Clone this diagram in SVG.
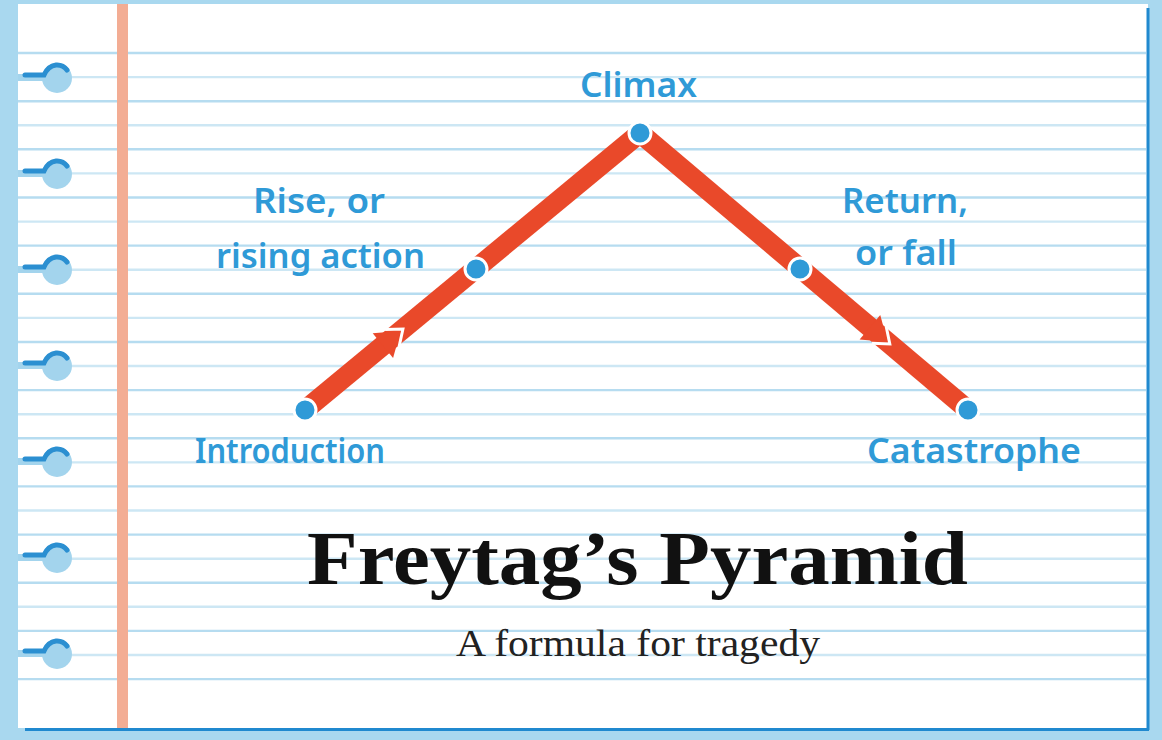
<svg xmlns="http://www.w3.org/2000/svg" width="1162" height="740" viewBox="0 0 1162 740">
<style>
.rule{stroke:#b6dcf0;stroke-width:2.4}
.rule2{stroke:#cde7f4;stroke-width:2.4}
.hole{fill:#a3d4ed}
.wire{fill:none;stroke:#2b8fd1;stroke-width:5;stroke-linecap:round}
.track{stroke:#e9492a;stroke-width:20;stroke-linecap:butt;fill:none}
.head{fill:#e9492a}
.gap{fill:none;stroke:#ffffff;stroke-width:3}
.dot{fill:#2f9ad7;stroke:#ffffff;stroke-width:3}
.hand{font-family:"Noto Sans","Open Sans",sans-serif;font-weight:600;fill:#2f9ad7;font-size:34px}
.title{font-family:"Liberation Serif",serif;font-weight:bold;fill:#111111;font-size:76px}
.sub{font-family:"Liberation Serif",serif;fill:#222222;font-size:38px}
</style>
<defs>
<g id="ring">
<rect x="18" y="-4" width="34" height="7" class="hole"/>
<circle cx="57" cy="0" r="15" class="hole"/>
<path class="wire" d="M25,-3 L44,-3 Q48,-12 56,-13 Q63,-13.5 67,-8"/>
</g>
</defs>
<rect x="0" y="0" width="1162" height="740" fill="#a9d8ef"/>
<g id="paper">
<rect x="18" y="4" width="1130" height="724" fill="#ffffff"/>
<line x1="1148" y1="8" x2="1148" y2="730" stroke="#2089cf" stroke-width="3"/>
<line x1="25" y1="729.5" x2="1149" y2="729.5" stroke="#2089cf" stroke-width="3"/>
<g id="rules">
<line class="rule" x1="18" y1="53" x2="1146" y2="53"/>
<line class="rule2" x1="18" y1="77.1" x2="1146" y2="77.1"/>
<line class="rule" x1="18" y1="101.2" x2="1146" y2="101.2"/>
<line class="rule2" x1="18" y1="125.2" x2="1146" y2="125.2"/>
<line class="rule" x1="18" y1="149.3" x2="1146" y2="149.3"/>
<line class="rule2" x1="18" y1="173.4" x2="1146" y2="173.4"/>
<line class="rule" x1="18" y1="197.5" x2="1146" y2="197.5"/>
<line class="rule2" x1="18" y1="221.6" x2="1146" y2="221.6"/>
<line class="rule" x1="18" y1="245.6" x2="1146" y2="245.6"/>
<line class="rule2" x1="18" y1="269.7" x2="1146" y2="269.7"/>
<line class="rule" x1="18" y1="293.8" x2="1146" y2="293.8"/>
<line class="rule2" x1="18" y1="317.9" x2="1146" y2="317.9"/>
<line class="rule" x1="18" y1="342" x2="1146" y2="342"/>
<line class="rule2" x1="18" y1="366" x2="1146" y2="366"/>
<line class="rule" x1="18" y1="390.1" x2="1146" y2="390.1"/>
<line class="rule2" x1="18" y1="414.2" x2="1146" y2="414.2"/>
<line class="rule" x1="18" y1="438.3" x2="1146" y2="438.3"/>
<line class="rule2" x1="18" y1="462.4" x2="1146" y2="462.4"/>
<line class="rule" x1="18" y1="486.4" x2="1146" y2="486.4"/>
<line class="rule2" x1="18" y1="510.5" x2="1146" y2="510.5"/>
<line class="rule" x1="18" y1="534.6" x2="1146" y2="534.6"/>
<line class="rule2" x1="18" y1="558.7" x2="1146" y2="558.7"/>
<line class="rule" x1="18" y1="582.8" x2="1146" y2="582.8"/>
<line class="rule2" x1="18" y1="606.8" x2="1146" y2="606.8"/>
<line class="rule" x1="18" y1="630.9" x2="1146" y2="630.9"/>
<line class="rule2" x1="18" y1="655" x2="1146" y2="655"/>
<line class="rule" x1="18" y1="679.1" x2="1146" y2="679.1"/>
</g>
<rect x="117" y="4" width="11" height="724" fill="#f3ad94"/>
</g>
<g id="rings">
<use href="#ring" transform="translate(0,78)"/>
<use href="#ring" transform="translate(0,174)"/>
<use href="#ring" transform="translate(0,270)"/>
<use href="#ring" transform="translate(0,366)"/>
<use href="#ring" transform="translate(0,462)"/>
<use href="#ring" transform="translate(0,558)"/>
<use href="#ring" transform="translate(0,654)"/>
</g>
<g id="connectors">
<line class="track" x1="305" y1="410" x2="640" y2="133"/>
<line class="track" x1="640" y1="133" x2="968" y2="410"/>
<g transform="translate(400.6,331) rotate(-39.6)">
<polyline class="gap" points="-11,-11 3,0 -11,11"/>
<polygon class="head" points="0,0 -23,-16 -23,16"/>
</g>
<g transform="translate(887.5,342) rotate(40.2)">
<polyline class="gap" points="-11,-11 3,0 -11,11"/>
<polygon class="head" points="0,0 -23,-16 -23,16"/>
</g>
</g>
<g id="node-introduction">
<circle class="dot" cx="305" cy="410" r="11"/>
<text class="hand" x="195" y="463" textLength="190" lengthAdjust="spacingAndGlyphs">Introduction</text>
</g>
<g id="node-rise">
<circle class="dot" cx="476" cy="269" r="11"/>
<text class="hand" x="253" y="213" textLength="132" lengthAdjust="spacingAndGlyphs">Rise, or</text>
<text class="hand" x="216" y="268" textLength="209" lengthAdjust="spacingAndGlyphs">rising action</text>
</g>
<g id="node-climax">
<circle class="dot" cx="640" cy="133" r="11"/>
<text class="hand" x="580" y="97" textLength="117" lengthAdjust="spacingAndGlyphs">Climax</text>
</g>
<g id="node-return">
<circle class="dot" cx="800" cy="269" r="11"/>
<text class="hand" x="842" y="213" textLength="126" lengthAdjust="spacingAndGlyphs">Return,</text>
<text class="hand" x="855" y="265" textLength="102" lengthAdjust="spacingAndGlyphs">or fall</text>
</g>
<g id="node-catastrophe">
<circle class="dot" cx="968" cy="410" r="11"/>
<text class="hand" x="867" y="463" textLength="214" lengthAdjust="spacingAndGlyphs">Catastrophe</text>
</g>
<g id="title">
<text class="title" x="307" y="584" textLength="661" lengthAdjust="spacingAndGlyphs">Freytag’s Pyramid</text>
<text class="sub" x="456" y="656" textLength="364" lengthAdjust="spacingAndGlyphs">A formula for tragedy</text>
</g>
</svg>
